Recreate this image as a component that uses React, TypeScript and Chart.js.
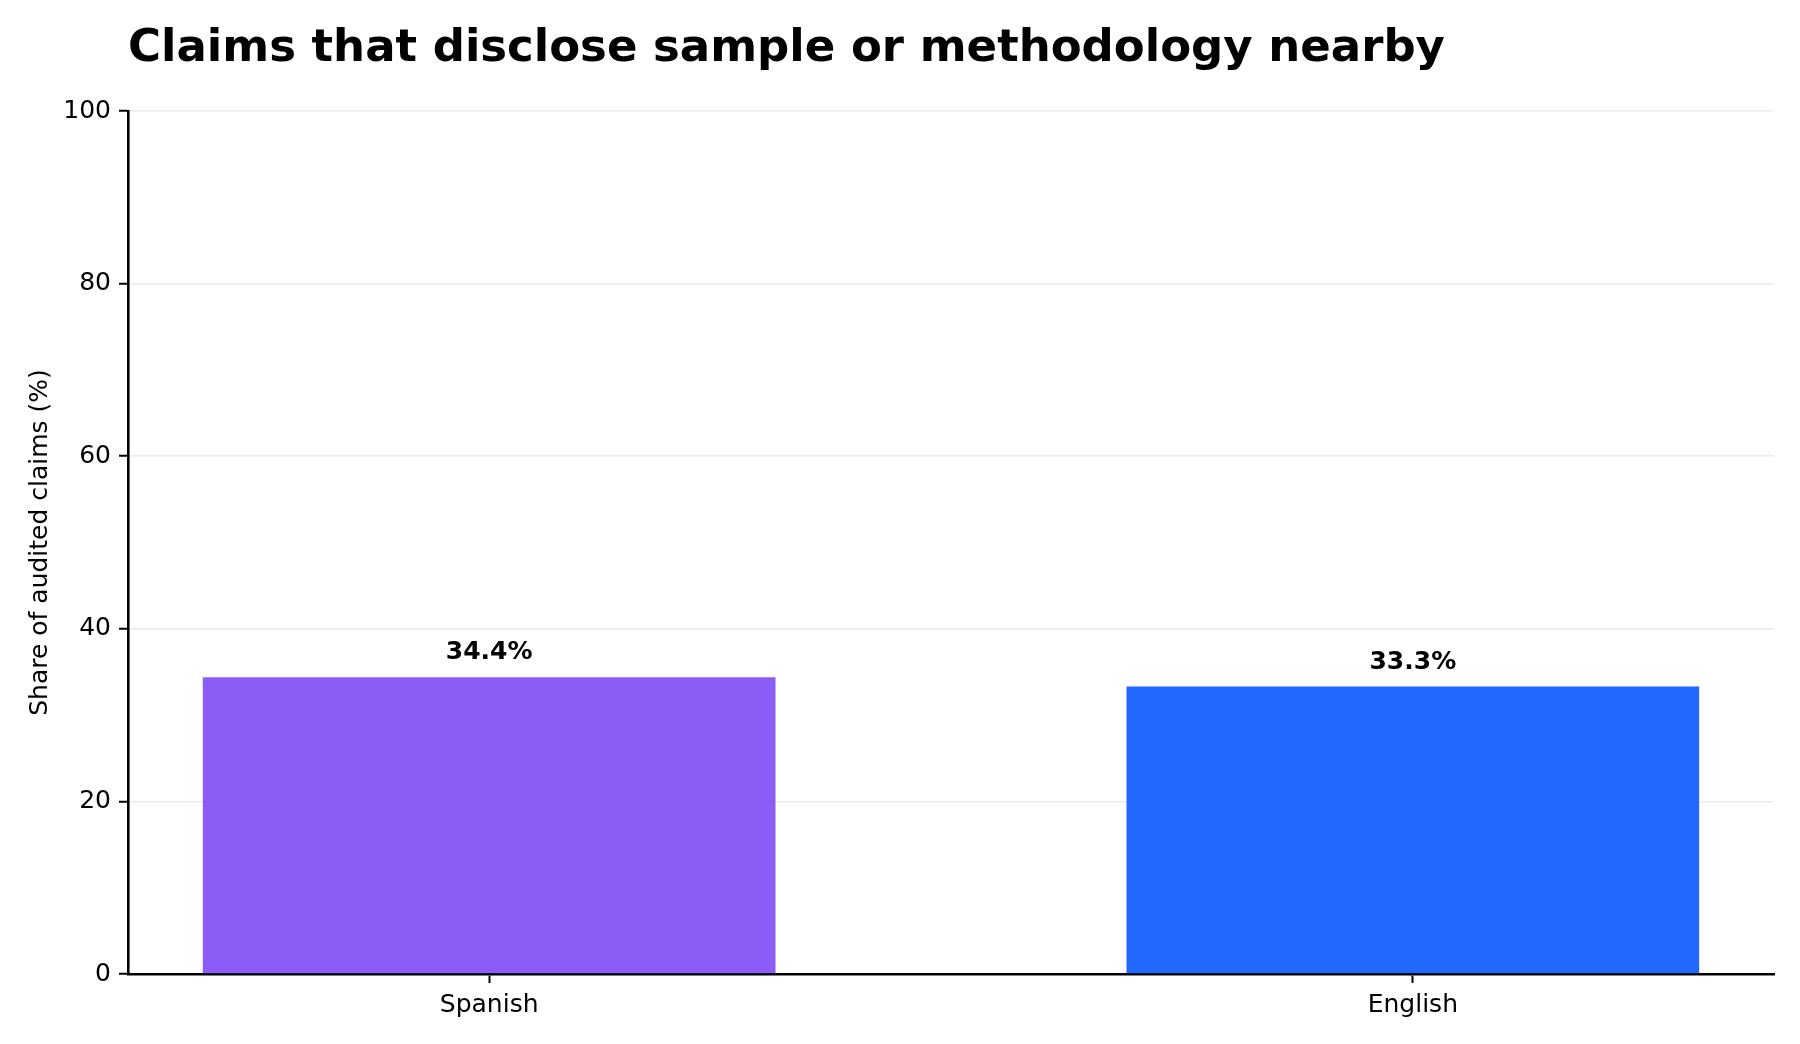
import { useEffect, useRef } from 'react';
import { Chart, registerables } from 'chart.js';

Chart.register(...registerables);

const categories = ['Spanish', 'English'];
const shares = [34.4, 33.3];
const barColors = ['rgba(129, 78, 245, 0.92)', 'rgba(17, 92, 255, 0.92)'];
const yTicks = [0, 20, 40, 60, 80, 100];

const FONT = '"DejaVu Sans", "Liberation Sans", sans-serif';

const valueLabels = {
    id: 'valueLabels',
    afterDatasetsDraw(chart: Chart) {
        const { ctx, scales } = chart;
        ctx.save();
        ctx.font = `bold 25px ${FONT}`;
        ctx.fillStyle = '#000';
        ctx.textAlign = 'center';
        ctx.textBaseline = 'alphabetic';
        shares.forEach((v, i) => {
            const x = scales.x.getPixelForValue(i);
            const y = scales.y.getPixelForValue(v) - 18;
            ctx.fillText(`${v.toFixed(1)}%`, x, y);
        });
        ctx.restore();
    }
};

export default function App() {
    const canvasRef = useRef<HTMLCanvasElement>(null);

    useEffect(() => {
        document.body.style.margin = '0';
        if (!canvasRef.current) return;

        const chart = new Chart(canvasRef.current, {
            type: 'bar',
            data: {
                datasets: [{
                    data: shares.map((v, i) => ({ x: i, y: v })),
                    backgroundColor: barColors,
                    borderWidth: 0,
                    barPercentage: 0.62,
                    categoryPercentage: 1
                }]
            },
            options: {
                animation: false,
                responsive: true,
                maintainAspectRatio: false,
                devicePixelRatio: 1,
                layout: { padding: { left: 0, right: 26, top: 0, bottom: 0 } },
                plugins: {
                    legend: { display: false },
                    tooltip: { enabled: false },
                    title: {
                        display: true,
                        text: 'Claims that disclose sample or methodology nearby',
                        align: 'start',
                        fullSize: false,
                        color: '#000',
                        font: { family: FONT, size: 45, weight: 'bold', lineHeight: 1.2 },
                        padding: { top: 22, bottom: 35 }
                    }
                },
                scales: {
                    x: {
                        type: 'linear',
                        min: -0.391,
                        max: 1.391,
                        offset: false,
                        afterBuildTicks: (scale) => {
                            scale.ticks = categories.map((_, i) => ({ value: i }));
                        },
                        afterFit: (scale) => { scale.height = 70; },
                        ticks: {
                            callback: (value) => categories[Number(value)] ?? '',
                            color: '#000',
                            padding: 7,
                            font: { family: FONT, size: 25 }
                        },
                        grid: {
                            offset: false,
                            drawOnChartArea: false,
                            drawTicks: true,
                            tickLength: 9,
                            tickWidth: 2,
                            tickColor: '#000'
                        },
                        border: { color: '#000', width: 2.6 }
                    },
                    y: {
                        min: 0,
                        max: 100,
                        afterBuildTicks: (scale) => {
                            scale.ticks = yTicks.map((v) => ({ value: v }));
                        },
                        afterFit: (scale) => { scale.width = 128; },
                        ticks: {
                            color: '#000',
                            padding: 8,
                            font: { family: FONT, size: 25 }
                        },
                        grid: {
                            color: '#ebebeb',
                            lineWidth: 1.5,
                            drawTicks: true,
                            tickLength: 9,
                            tickWidth: 2,
                            tickColor: '#000'
                        },
                        border: { color: '#000', width: 2.6 },
                        title: {
                            display: true,
                            text: 'Share of audited claims (%)',
                            color: '#000',
                            font: { family: FONT, size: 25 },
                            padding: { top: 25, bottom: 4 }
                        }
                    }
                }
            },
            plugins: [valueLabels]
        });

        return () => chart.destroy();
    }, []);

    return (
        <div style={{ width: 1800, height: 1044, position: 'relative', background: '#fff' }}>
            <canvas ref={canvasRef} />
        </div>
    );
}
